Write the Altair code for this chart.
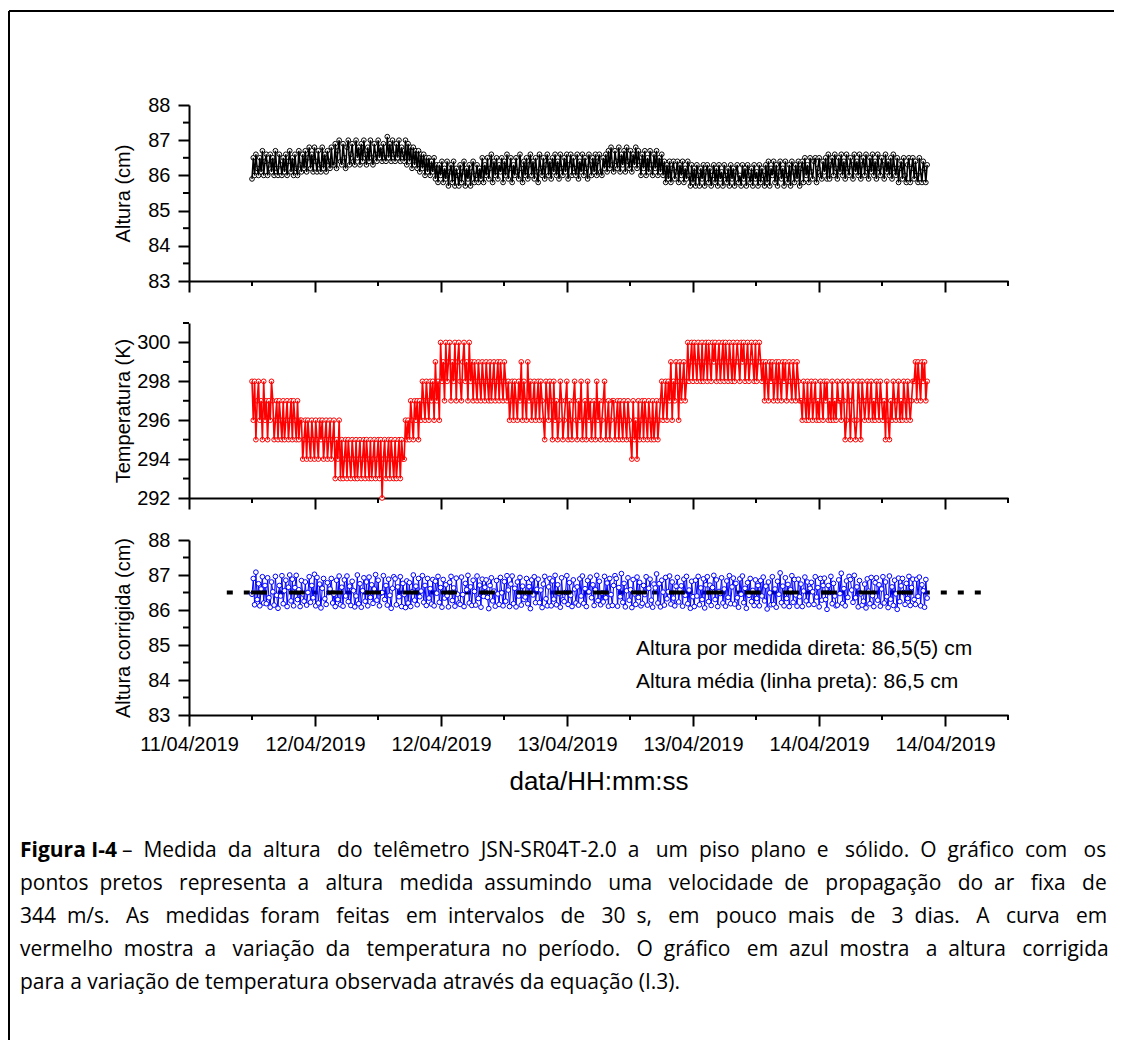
import altair as alt
import pandas as pd

# ---------------- data ----------------
x_tick_labels = ["11/04/2019", "12/04/2019", "12/04/2019", "13/04/2019",
                 "13/04/2019", "14/04/2019", "14/04/2019"]
x_major_ticks = [0, 12, 24, 36, 48, 60, 72]          # hours
x_minor_ticks = [6, 18, 30, 42, 54, 66, 78]
x_domain = [0, 78]
t_first = 6.0      # first measurement (h)
t_last = 70.3      # last measurement (h)

altura_ticks = [83, 84, 85, 86, 87, 88]
altura_minor = [83.5, 84.5, 85.5, 86.5, 87.5]
altura_domain = [83, 88]
temp_ticks = [292, 294, 296, 298, 300]
temp_minor = [293, 295, 297, 299, 301]
temp_domain = [292, 301]

# Altura (cm) - black points
altura = [
    85.9, 86.5, 86.0, 86.6, 86.2, 86.0, 86.5, 86.1, 86.7, 86.0, 86.4, 86.6, 86.0, 86.3, 86.6, 86.1, 86.5, 86.0, 86.7, 86.2,
    86.0, 86.6, 86.3, 86.0, 86.5, 86.1, 86.6, 86.0, 86.4, 86.7, 86.1, 86.5, 86.0, 86.6, 86.2, 86.0, 86.7, 86.3, 86.1, 86.6,
    86.2, 86.7, 86.1, 86.5, 86.8, 86.2, 86.6, 86.1, 86.8, 86.4, 86.1, 86.7, 86.3, 86.1, 86.8, 86.2, 86.6, 86.1, 86.7, 86.4,
    86.2, 86.8, 86.3,
    86.3, 86.9, 86.2, 86.7, 87.0, 86.4, 86.3, 86.9, 86.5, 86.2, 86.8, 87.0, 86.3, 86.6, 86.9, 86.4, 86.3, 87.0, 86.5, 86.8,
    86.3, 86.9, 86.4, 87.0, 86.6, 86.3, 86.8, 86.4, 87.0, 86.5, 86.3, 86.9, 86.6, 86.4, 87.0, 86.5, 86.8, 86.4, 86.9, 86.5,
    86.4, 87.1,
    86.5, 86.9, 86.4, 87.0, 86.6, 86.4, 86.9, 86.5, 87.0, 86.4, 86.8, 86.6,
    86.4, 87.0, 86.3, 86.9, 86.4, 86.8, 86.2, 86.8, 86.3, 86.7, 86.2, 86.7, 86.1, 86.6, 86.2, 86.6, 86.0, 86.5, 86.1, 86.5,
    86.0, 86.4, 86.1, 86.5, 85.9, 86.3,
    85.8, 86.3, 86.0, 86.4, 85.8, 86.2, 85.9, 86.4, 85.7, 86.1, 86.3, 85.8, 86.4, 85.7, 86.2, 86.0, 85.7, 86.3, 85.8, 86.1,
    86.4, 85.7, 86.2, 85.9, 86.3, 85.7, 86.1, 86.4, 85.8, 86.0, 86.3, 85.8, 86.2,
    85.9, 86.5, 85.8, 86.3, 86.0, 86.5, 85.9, 86.2, 86.6, 85.8, 86.4, 86.0, 86.5, 85.9, 86.3, 86.1, 86.5, 85.8, 86.4, 86.0,
    86.6, 85.9, 86.2, 86.5, 85.8, 86.3, 86.0, 86.5, 86.1, 85.9, 86.6, 86.2, 85.8, 86.4, 86.0, 86.5, 85.9, 86.3, 86.6, 86.0,
    86.4, 85.9, 86.5, 86.1, 85.8, 86.6, 86.2, 86.0, 86.5, 85.9, 86.3, 86.6, 86.0, 86.4,
    85.9, 86.5, 86.1, 86.6, 86.0, 86.4, 85.9, 86.6, 86.2, 86.0, 86.5, 86.1, 86.6, 85.9, 86.3, 86.6, 86.0, 86.5, 86.2, 86.0,
    86.6, 85.9, 86.4, 86.1, 86.6, 86.0, 86.5, 86.2, 85.9, 86.6, 86.3, 86.0, 86.5, 86.1, 86.6, 86.0, 86.4, 86.6, 86.1, 86.0,
    86.5, 86.2, 86.6,
    86.1, 86.7, 86.2, 86.8, 86.3, 86.1, 86.7, 86.4, 86.2, 86.8, 86.1, 86.6, 86.3, 86.7, 86.1, 86.8, 86.4, 86.2, 86.7, 86.1,
    86.6, 86.3, 86.8, 86.2, 86.7, 86.4,
    86.0, 86.6, 86.2, 86.7, 86.0, 86.5, 86.1, 86.7, 86.3, 86.0, 86.6, 86.2, 86.7, 86.0, 86.5, 86.1, 86.6,
    86.0, 86.4, 85.8, 86.3, 85.9, 86.4, 85.8, 86.2, 86.4, 85.9, 86.1, 86.4, 85.8, 86.3, 86.0, 86.4, 85.8, 86.2, 85.9, 86.4,
    86.0,
    85.7, 86.3, 85.8, 86.2, 85.7, 86.3, 86.0, 85.7, 86.2, 85.9, 86.3, 85.7, 86.1, 86.3, 85.8, 86.2, 85.7, 86.0, 86.3, 85.8,
    86.2, 85.7, 86.3, 85.9, 86.1, 85.7, 86.3, 86.0, 85.8, 86.2, 85.7, 86.3, 85.9, 86.2, 85.7, 86.1, 86.3, 85.8, 86.0, 85.7,
    86.3, 85.9, 86.2, 85.7, 86.3, 86.0, 85.8, 86.2, 85.7, 86.3, 85.9, 86.1, 85.7, 86.3, 85.8, 86.2, 86.0, 85.7, 86.3,
    85.8, 86.4, 85.7, 86.2, 86.0, 86.4, 85.8, 86.3, 85.7, 86.1, 86.4, 85.9, 86.2, 85.7, 86.4, 86.0, 85.8, 86.3, 85.7, 86.4,
    86.1, 85.8, 86.3, 85.9, 86.4, 85.7, 86.2, 86.4,
    85.8, 86.5, 86.0, 86.3, 85.8, 86.5, 86.1, 85.9, 86.4, 86.5, 85.8, 86.2, 86.5, 86.0, 85.9, 86.4, 86.1, 86.5, 85.9,
    86.6, 85.9, 86.3, 86.5, 86.0, 86.6, 86.2, 85.9, 86.5, 86.1, 86.6, 86.0, 86.4, 85.9, 86.6, 86.2, 86.0, 86.5, 86.3, 85.9,
    86.6, 86.1, 86.4, 86.0, 86.6, 85.9, 86.3, 86.5, 86.0, 86.6, 86.2, 85.9, 86.5, 86.1, 86.6, 86.0, 86.4, 85.9, 86.6, 86.2,
    86.0, 86.5, 86.3, 85.9, 86.6, 86.1, 86.4, 86.0, 86.5, 85.9, 86.6, 86.2, 86.0,
    86.5, 85.8, 86.2, 86.4, 85.9, 86.5, 86.0, 85.8, 86.3, 86.5, 85.8, 86.2, 86.5, 85.9, 86.4, 86.0, 85.8, 86.5, 86.1, 85.8,
    86.4, 86.2, 85.8, 86.3,
]

# Temperatura (K) - red points
temperatura = [
    298, 296, 298, 295, 297, 298, 296, 297, 295, 298, 296, 297, 295, 297, 296, 298,
    297, 295, 296, 297, 295, 297, 296, 295, 297, 295, 296, 297, 295, 296, 297, 295, 297, 296, 295, 297, 295, 296,
    296, 294, 295, 296, 294, 296, 295, 294, 296, 295, 294, 296, 295, 294, 296, 295, 296, 294, 295, 296, 294, 295, 296, 294, 295,
    296, 293, 295, 294, 296, 293, 295, 293, 294, 295, 293, 295, 294,
    293, 295, 294, 293, 295, 293, 294, 295, 293, 294, 295, 293, 295, 294, 293, 295, 293, 294, 295, 293,
    294, 295, 293, 295, 292, 294, 295, 293, 294, 295, 293, 295, 294, 293, 295, 293, 294, 295, 293, 295, 294,
    294, 296, 295, 296,
    295, 297, 296, 295, 297, 296, 297, 295, 297,
    296, 298, 297, 296, 298, 297, 296, 298, 297, 298, 296,
    299, 297, 298, 296,
    300, 298, 299, 297, 300, 298, 299, 300, 297, 299, 298, 300, 297, 299, 300, 298, 297, 299, 300, 298,
    299, 297, 300, 298, 299, 297, 299, 298, 297, 299, 298, 297, 299,
    298, 297, 299, 298, 297, 299, 297, 298, 299, 297, 298, 299, 297, 299, 298, 297, 299, 298, 297,
    298, 296, 297, 298, 296, 298, 297, 296, 298, 297, 299, 296, 298, 297, 296, 299, 297, 298, 296, 297,
    298, 296, 297, 298, 296, 298, 297, 296, 295, 298, 297, 296, 298,
    297, 295, 298, 296, 297, 295, 296, 298, 297, 295, 296, 297, 298, 295, 297, 296, 295, 297, 298, 296,
    295, 297, 296, 298, 295, 296, 297, 295, 298, 296, 297, 295, 296, 297, 295, 298, 296, 297, 295, 296,
    297, 298, 295, 296, 297, 295, 296, 297,
    297, 295, 296, 297, 295, 297, 296, 295, 297, 296, 295, 297, 296, 295, 294, 297, 295, 296, 294, 297,
    295, 296, 297, 295, 297, 296, 295, 297, 296, 295, 297, 295, 296, 297, 295, 296, 297,
    298, 296, 297, 298, 296, 298, 297, 299, 296, 298, 297, 299, 298, 296, 299, 297, 298, 299, 297, 298,
    300, 298, 299, 300, 298, 300, 299, 298, 300, 299, 298, 300, 298, 299, 300, 298, 300, 299, 298, 300,
    299, 300, 298, 299, 300, 298, 299, 300, 298, 300, 299, 298, 300, 299, 298, 300, 298, 299, 300, 299,
    298, 300, 299, 300, 298, 299, 300, 298, 299, 300, 299, 298, 300, 298, 299, 300, 299, 298, 299,
    297, 299, 298, 297, 299, 298, 299, 297, 298, 299, 297, 299, 298, 297, 299, 298, 299, 297, 298, 299,
    298, 297, 299, 298, 297, 299, 298, 297,
    297, 296, 298, 297, 296, 298, 296, 297, 298, 296, 297, 298, 296, 297, 296, 298, 297, 296, 298, 297,
    298, 296, 297, 296, 298, 296, 297, 296, 298, 297, 297, 296, 298, 297, 295, 296, 298, 297, 295, 297,
    298, 296, 295, 296, 298, 297, 295, 298, 297, 296, 297, 298, 296, 297, 298, 296, 297, 296, 298, 297,
    296, 298, 297, 296, 297, 295, 298, 296, 295, 297, 296, 298, 297, 296, 297, 298, 296, 297, 296, 298,
    297, 296, 298, 297, 296, 297, 298,
    298, 299, 297, 299, 298, 297, 299, 298, 299, 297, 298,
]

# Altura corrigida (cm) - blue points
altura_corrigida = [
    86.45, 86.90, 86.15, 87.08, 86.30, 86.75, 86.12, 86.60, 86.95, 86.20,
    86.70, 86.18, 86.92, 86.35, 86.08, 86.80, 86.52, 86.14, 86.96, 86.42,
    86.05, 86.70, 86.40, 86.98, 86.18, 86.55, 86.85, 86.10, 86.65, 87.00,
    86.26, 86.88, 86.12, 86.64, 86.99, 86.30, 86.58, 86.10, 86.84, 86.46,
    86.25, 86.80, 86.14, 86.50, 86.95, 86.22, 86.70, 86.35, 87.02, 86.12,
    86.93, 86.20, 86.74, 86.06, 86.62, 86.90, 86.32, 86.16, 86.78, 86.50,
    86.60, 86.90, 86.20, 86.45, 86.10, 86.85, 86.30, 86.97, 86.15, 86.65,
    86.11, 86.86, 86.40, 86.97, 86.24, 86.68, 86.13, 86.82, 86.55, 86.09,
    86.40, 87.00, 86.18, 86.75, 86.08, 86.55, 86.92, 86.25, 86.80, 86.12,
    86.94, 86.36, 86.72, 86.19, 86.60, 87.01, 86.28, 86.85, 86.12, 86.48,
    86.50, 86.98, 86.30, 86.70, 86.14, 86.88, 86.42, 86.05, 86.62, 86.95,
    86.89, 86.15, 86.66, 86.38, 86.95, 86.10, 86.76, 86.44, 86.07, 86.83,
    86.20, 86.78, 86.10, 86.52, 87.00, 86.28, 86.68, 86.15, 86.90, 86.38,
    86.54, 86.98, 86.22, 86.70, 86.13, 86.90, 86.34, 86.61, 86.17, 86.87,
    86.12, 86.82, 86.48, 86.96, 86.22, 86.64, 86.08, 86.87, 86.34, 86.72,
    86.41, 86.09, 86.79, 86.96, 86.27, 86.63, 86.11, 86.91, 86.45, 86.20,
    86.16, 86.94, 86.44, 86.10, 86.76, 86.58, 86.99, 86.20, 86.66, 86.13,
    86.85, 86.53, 86.14, 86.97, 86.33, 86.71, 86.08, 86.88, 86.39, 86.65,
    86.86, 86.36, 86.04, 86.70, 86.92, 86.26, 86.54, 86.11, 86.84, 86.46,
    86.16, 86.93, 86.49, 86.12, 86.81, 86.25, 86.98, 86.57, 86.10, 86.74,
    86.97, 86.18, 86.62, 86.09, 86.80, 86.40, 86.93, 86.14, 86.68, 86.30,
    86.37, 86.90, 86.18, 86.67, 86.04, 86.86, 86.43, 86.95, 86.21, 86.59,
    86.88, 86.21, 86.57, 86.07, 86.74, 86.96, 86.32, 86.12, 86.66, 86.90,
    86.12, 86.83, 86.31, 86.99, 86.15, 86.72, 86.47, 86.08, 86.92, 86.29,
    86.24, 86.50, 86.98, 86.16, 86.78, 86.42, 86.10, 86.86, 86.60, 86.20,
    86.66, 86.14, 86.89, 86.40, 86.97, 86.19, 86.61, 86.10, 86.84, 86.52,
    86.94, 86.35, 86.72, 86.13, 86.58, 86.99, 86.27, 86.82, 86.15, 86.48,
    86.23, 86.96, 86.35, 86.77, 86.11, 86.90, 86.44, 86.13, 86.70, 86.98,
    86.90, 86.11, 86.64, 86.38, 87.04, 86.22, 86.76, 86.09, 86.55, 86.92,
    86.28, 86.58, 86.07, 86.87, 86.46, 86.16, 86.94, 86.36, 86.79, 86.12,
    86.19, 86.70, 86.44, 86.95, 86.14, 86.62, 86.88, 86.28, 86.08, 86.74,
    86.63, 87.03, 86.20, 86.75, 86.09, 86.85, 86.51, 86.14, 86.93, 86.32,
    86.52, 86.97, 86.17, 86.80, 86.34, 86.12, 86.68, 86.93, 86.23, 86.58,
    86.69, 86.11, 86.88, 86.42, 86.96, 86.18, 86.57, 86.05, 86.82, 86.38,
    86.10, 86.85, 86.40, 86.96, 86.15, 86.63, 86.30, 86.89, 86.06, 86.72,
    86.95, 86.24, 86.71, 86.13, 86.64, 86.99, 86.30, 86.86, 86.10, 86.53,
    86.47, 86.92, 86.20, 86.60, 86.11, 86.83, 86.36, 86.98, 86.18, 86.66,
    86.91, 86.17, 86.76, 86.35, 86.08, 86.89, 86.45, 86.97, 86.21, 86.62,
    86.05, 86.78, 86.42, 86.90, 86.24, 86.56, 86.13, 86.86, 86.33, 86.70,
    86.12, 86.84, 86.40, 86.94, 86.26, 86.68, 86.03, 86.80, 86.49, 86.15,
    86.95, 86.16, 86.60, 86.08, 86.82, 86.45, 87.06, 86.21, 86.68, 86.12,
    86.92, 86.33, 86.73, 86.10, 86.58, 86.98, 86.22, 86.87, 86.43, 86.11,
    86.88, 86.38, 86.74, 86.10, 86.54, 86.94, 86.26, 86.80, 86.15, 86.62,
    86.79, 86.52, 86.16, 86.95, 86.37, 86.64, 86.09, 86.90, 86.28, 86.70,
    86.91, 86.30, 86.02, 86.70, 86.50, 86.96, 86.18, 86.76, 86.40, 86.12,
    86.14, 86.86, 86.47, 87.05, 86.19, 86.61, 86.12, 86.83, 86.36, 86.96,
    86.87, 86.57, 86.22, 86.99, 86.35, 86.66, 86.09, 86.84, 86.46, 86.14,
    86.25, 86.74, 86.06, 86.89, 86.54, 86.18, 86.93, 86.41, 86.10, 86.78,
    86.92, 86.28, 86.72, 86.11, 86.60, 86.95, 86.20, 86.80, 86.38, 86.07,
    86.97, 86.31, 86.66, 86.13, 86.85, 86.46, 86.02, 86.91, 86.24, 86.69,
    86.90, 86.50, 86.16, 86.76, 86.33, 86.96, 86.13, 86.64, 86.88, 86.30,
    86.16, 86.88, 86.39, 86.94, 86.12, 86.72, 86.55, 86.08, 86.87, 86.34,
]

altura_direta = 86.5
direta_t = [3.6, 75.6]
altura_media = 86.5
media_t = [5.9, 70.4]

anotacoes = ["Altura por medida direta: 86,5(5) cm",
             "Altura média (linha preta): 86,5 cm"]

legenda_negrito = "Figura I-4"
legenda_linhas = [
    "– Medida da altura do telêmetro JSN-SR04T-2.0 a um piso plano e sólido. O gráfico com os",
    "pontos pretos representa a altura medida assumindo uma velocidade de propagação do ar fixa de",
    "344 m/s. As medidas foram feitas em intervalos de 30 s, em pouco mais de 3 dias. A curva em",
    "vermelho mostra a variação da temperatura no período. O gráfico em azul mostra a altura corrigida",
    "para a variação de temperatura observada através da equação (I.3).",
]
# extra (non-breaking) spaces per line to imitate the justified paragraph
legenda_espacos_extra = [20, 23, 32, 21, 0]

# ---------------- helpers ----------------
W = 819
H1, H2, H3 = 176, 175, 175
FONT = "Liberation Sans"
CAP_FONT = "Open Sans"


def series_df(vals):
    n = len(vals)
    step = (t_last - t_first) / (n - 1)
    return pd.DataFrame({"t": [t_first + i * step for i in range(n)], "v": vals})


def justify(line, extra):
    words = line.split(" ")
    gaps = len(words) - 1
    if gaps <= 0 or extra <= 0:
        return line
    out = words[0]
    for g in range(gaps):
        k = (extra * (g + 1)) // gaps - (extra * g) // gaps
        out += " " + "\u00a0" * k + words[g + 1]
    return out


x_scale = alt.Scale(domain=x_domain, nice=False, zero=False)
labels_js = "[" + ",".join("'" + s + "'" for s in x_tick_labels) + "]"
values_js = "[" + ",".join(str(v) for v in x_major_ticks) + "]"


def make_x_axis(show):
    if show:
        return alt.Axis(values=x_major_ticks,
                        labelExpr=labels_js + "[indexof(" + values_js + ", datum.value)]",
                        labelFlush=False, labelOverlap=False, labelPadding=8,
                        labelFontSize=20, title="data/HH:mm:ss", titleFontSize=26,
                        titlePadding=14)
    return alt.Axis(values=x_major_ticks, labels=False, title="")


one = pd.DataFrame({"k": [0]})


def panel(vals, color, lw, domain, ticks, minor, title, height, show_x,
          line_on_top=False, extra_before=(), extra_after=()):
    ys = alt.Scale(domain=domain, nice=False, zero=False)
    xax = make_x_axis(show_x)
    yax = alt.Axis(values=ticks, title=title, titleX=-56, titleY=height / 2,
                   labelOverlap=False)
    X = alt.X("t:Q", scale=x_scale, axis=xax)
    Y = alt.Y("v:Q", scale=ys, axis=yax)
    ctx = {"X": X, "Y": Y}
    df = series_df(vals)
    line = alt.Chart(df).mark_line(color=color, strokeWidth=lw).encode(x=X, y=Y)
    pts = alt.Chart(df).mark_circle(size=22, fill="white", stroke=color,
                                    strokeWidth=1, opacity=1).encode(x=X, y=Y)
    ymin = alt.Chart(pd.DataFrame({"v": minor})).mark_rule(color="black", strokeWidth=2).encode(
        y=Y, x=alt.value(-6), x2=alt.value(0))
    xmin = alt.Chart(pd.DataFrame({"t": x_minor_ticks})).mark_rule(color="black", strokeWidth=2).encode(
        x=X, y=alt.value(height), y2=alt.value(height + 5))
    layers = [ymin, xmin]
    layers += [f(ctx) for f in extra_before]
    layers += [pts, line] if line_on_top else [line, pts]
    layers += [f(ctx) for f in extra_after]
    return alt.layer(*layers).properties(width=W, height=height)


# borders (panel 1)
def top_border(ctx):
    return alt.Chart(one).mark_rule(color="black", strokeWidth=2).encode(
        x=alt.value(-180), x2=alt.value(925), y=alt.value(-94))


def left_border(ctx):
    return alt.Chart(one).mark_rule(color="black", strokeWidth=2).encode(
        x=alt.value(-180), y=alt.value(-94), y2=alt.value(935))


# reference lines (panel 3)
def linha_direta(ctx):
    df = pd.DataFrame({"t": direta_t, "v": [altura_direta, altura_direta]})
    return alt.Chart(df).mark_line(color="black", strokeWidth=4, strokeDash=[6, 11]).encode(
        x=ctx["X"], y=ctx["Y"])


def linha_media(ctx):
    df = pd.DataFrame({"t": media_t, "v": [altura_media, altura_media]})
    return alt.Chart(df).mark_line(color="black", strokeWidth=4, strokeDash=[16, 22]).encode(
        x=ctx["X"], y=ctx["Y"])


def text_layer(txt, x, y, font=FONT, size=20, weight="normal"):
    def f(ctx):
        return alt.Chart(one).mark_text(text=txt, font=font, fontSize=size, fontWeight=weight,
                                        align="left", baseline="middle", color="black").encode(
            x=alt.value(x), y=alt.value(y))
    return f


p3_after = [linha_media,
            text_layer(anotacoes[0], 447, 109, size=21),
            text_layer(anotacoes[1], 447, 142, size=21),
            text_layer(legenda_negrito, -169, 311, font=CAP_FONT, size=21, weight="bold"),
            text_layer(justify(legenda_linhas[0], legenda_espacos_extra[0]), -67, 311,
                       font=CAP_FONT, size=21)]
for i, ln in enumerate(legenda_linhas[1:]):
    p3_after.append(text_layer(justify(ln, legenda_espacos_extra[i + 1]), -169, 311 + 33 * (i + 1),
                               font=CAP_FONT, size=21))

p1 = panel(altura, "black", 1.5, altura_domain, altura_ticks, altura_minor, "Altura (cm)", H1, False,
           line_on_top=True, extra_after=[top_border, left_border])
p2 = panel(temperatura, "#ff0000", 1.6, temp_domain, temp_ticks, temp_minor, "Temperatura (K)", H2, False,
           line_on_top=True)
p3 = panel(altura_corrigida, "#0000ff", 1.0, altura_domain, altura_ticks, altura_minor,
           "Altura corrigida (cm)", H3, True, extra_before=[linha_direta], extra_after=p3_after)

chart = alt.vconcat(p1, p2, p3, spacing=42, bounds="flush").properties(
    padding={"left": 0, "top": 2, "right": 0, "bottom": 0}
).configure_view(strokeWidth=0).configure_axis(
    domainColor="black", domainWidth=2, tickColor="black", tickWidth=2, tickSize=11,
    labelFont=FONT, labelFontSize=20, labelColor="black", labelPadding=8, labelOverlap=False,
    titleFont=FONT, titleFontSize=20, titleFontWeight="normal", titleColor="black",
    grid=False
)

chart.save("out.html", embed_options={"renderer": "svg", "actions": False})
